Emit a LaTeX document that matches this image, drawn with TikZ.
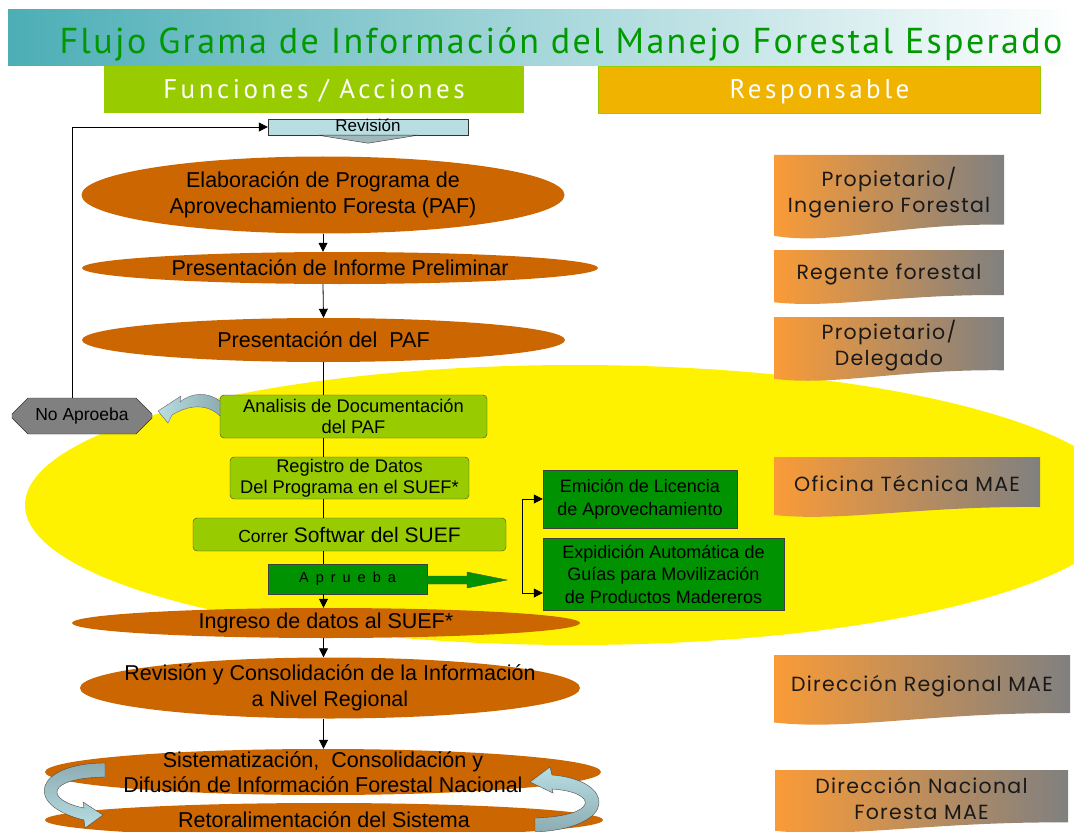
\documentclass[tikz,border=0pt]{standalone}
\usepackage{fontspec}
\setmainfont{Liberation Sans}
\newfontfamily\titlefont[LetterSpace=6.5]{PT Sans}
\newfontfamily\headfont[LetterSpace=13]{PT Sans}
\newfontfamily\respfont[LetterSpace=6]{Poppins}
\usetikzlibrary{shapes.geometric, shapes.misc, arrows.meta}

\definecolor{banner}{RGB}{76,174,182}
\definecolor{titlegreen}{RGB}{0,153,0}
\definecolor{lgreen}{RGB}{153,204,0}
\definecolor{dgreen}{RGB}{0,146,0}
\definecolor{respyellow}{RGB}{240,180,0}
\definecolor{elipcol}{RGB}{204,102,0}
\definecolor{cyanbox}{RGB}{184,222,226}
\definecolor{blueshade}{RGB}{140,172,178}
\definecolor{docorange}{RGB}{250,155,55}
\definecolor{docgray}{RGB}{128,128,128}

\tikzset{
flowell/.style={ellipse, fill=elipcol, inner xsep=-60pt, inner ysep=-10pt, align=center, font=\fontsize{21.5}{25.5}\selectfont},
greenbox/.style={rectangle, rounded corners=4pt, draw=black!75, fill=lgreen, inner sep=0pt, align=center, font=\fontsize{18.3}{21}\selectfont},
darkbox/.style={rectangle, draw=black!75, fill=dgreen, inner sep=0pt, align=center, font=\fontsize{18}{22.5}\selectfont},
resptext/.style={align=center, font=\respfont\fontsize{20.5}{26}\selectfont, text=black!90},
headbox/.style={rectangle, inner sep=0pt, text=white, text height=19pt, text depth=0pt, font=\headfont\fontsize{27}{30}\selectfont},
arr/.style={-{Triangle[length=9pt,width=9pt]}, line width=0.8pt},
link/.style={line width=0.8pt},
}

\newcommand{\respdoc}[6]{%
\shade[left color=docorange, right color=docgray] (#2,#3) -- (#4,#3) -- (#4,{#5-0.18*(#5-#3)}) .. controls ({#2+0.55*(#4-#2)},{#5-0.2*(#5-#3)}) and ({#2+0.25*(#4-#2)},{#5+0.07*(#5-#3)}) .. (#2,{#5-0.05*(#5-#3)}) -- cycle;
\node[resptext] (#1) at ({(#2+#4)/2},{(#3+#5)/2-0.06*(#5-#3)}) {#6};}

\begin{document}
\begin{tikzpicture}[x=1pt, y=-1pt]
\useasboundingbox (0,0) rectangle (1074,832);
\shade[left color=banner, right color=white] (8,10) rectangle (1074,66);
\node[text=titlegreen, font=\titlefont\fontsize{36}{40}\selectfont] (titulo) at (561,44) {Flujo Grama de Información del Manejo Forestal Esperado};
\node[headbox, fill=lgreen, minimum width=420pt, minimum height=47pt] (funciones) at (314,89.5) {Funciones / Acciones};
\node[headbox, fill=respyellow, draw=lgreen, minimum width=442pt, minimum height=47pt] (responsable) at (819.5,89.5) {Responsable};

\fill[yellow] (575,505) ellipse [x radius=550pt, y radius=140pt];

\respdoc{prop}{774}{155}{1004}{240}{Propietario/\\Ingeniero Forestal}
\respdoc{regente}{774}{250}{1004}{305}{Regente forestal}
\respdoc{deleg}{774}{317}{1004}{382}{Propietario/\\Delegado}
\respdoc{oficina}{774}{457}{1040}{518}{Oficina Técnica MAE}
\respdoc{dirreg}{774}{655}{1070}{726}{Dirección Regional MAE}
\respdoc{dirnac}{775}{770}{1068}{834}{Dirección Nacional\\Foresta MAE}

\node[draw=black!80, fill=cyanbox, minimum width=200pt, minimum height=16pt, inner sep=0pt, text height=9pt, text depth=0pt, font=\fontsize{17}{20}\selectfont] (rev) at (368,127) {Revisión};
\filldraw[fill=cyanbox!60!gray, draw=black!80] ([xshift=-50pt]rev.south) -- ([yshift=-8pt]rev.south) -- ([xshift=50pt]rev.south) -- cycle;

\node[flowell, minimum width=483pt, minimum height=77pt] (elab) at (323,195) {Elaboración de Programa de\\Aprovechamiento Foresta (PAF)};
\node[flowell, minimum width=516pt, minimum height=32pt] (prelim) at (340,268) {Presentación de Informe Preliminar};
\node[flowell, minimum width=483pt, minimum height=44pt] (prespaf) at (323.5,340) {Presentación del\ \ PAF};

\node[chamfered rectangle, chamfered rectangle xsep=8pt, chamfered rectangle ysep=8pt, draw=black!80, fill=docgray, minimum width=140pt, minimum height=36pt, inner sep=0pt, font=\fontsize{17.5}{20}\selectfont] (noap) at (82,416) {No Aproeba};
\node[greenbox, minimum width=267pt, minimum height=43pt] (anal) at (353.5,416.5) {Analisis de Documentación\\del PAF};
\node[greenbox, minimum width=239pt, minimum height=42pt] (regis) at (349.5,478) {Registro de Datos\\Del Programa en el SUEF*};
\node[greenbox, minimum width=313pt, minimum height=33pt, font=\fontsize{21}{24}\selectfont] (correr) at (349.5,534.5) {{\fontsize{17.5}{20}\selectfont Correr} Softwar del SUEF};
\node[darkbox, minimum width=159pt, minimum height=30pt, font=\fontsize{14.5}{16}\selectfont] (aprb) at (347.5,579) {A\hspace{7pt}p\hspace{7pt}r\hspace{7pt}u\hspace{7pt}e\hspace{7pt}b\hspace{7pt}a};
\node[darkbox, minimum width=194pt, minimum height=58pt] (emi) at (640,499) {Emición de Licencia\\de Aprovechamiento};
\node[darkbox, minimum width=241pt, minimum height=72pt] (expi) at (663.5,574) {Expidición Automática de\\Guías para Movilización\\de Productos Madereros};

\node[flowell, minimum width=508pt, minimum height=30pt] (ingreso) at (326,623) {Ingreso de datos al SUEF*};
\node[flowell, minimum width=500pt, minimum height=61pt, font=\fontsize{21.5}{26}\selectfont] (revcons) at (330,688) {Revisión y Consolidación de la Información\\a Nivel Regional};
\node[flowell, minimum width=556pt, minimum height=46pt] (sist) at (323,772) {Sistematización,\ \ Consolidación y\\Difusión de Información Forestal Nacional};
\node[flowell, minimum width=558pt, minimum height=34pt] (retro) at (324,820) {Retoralimentación del Sistema};

\draw[arr] (elab.south) -- (elab.south |- prelim.north);
\draw[arr] (prelim.south -| elab.south) -- (prespaf.north);
\draw[link] (prespaf.south) -- (prespaf.south |- anal.north);
\draw[link] (anal.south -| prespaf.south) -- (prespaf.south |- regis.north);
\draw[link] (regis.south -| prespaf.south) -- (prespaf.south |- correr.north);
\draw[link] (correr.south -| prespaf.south) -- (prespaf.south |- aprb.north);
\draw[arr] (aprb.south -| prespaf.south) -- (prespaf.south |- ingreso.north);
\draw[arr] (ingreso.south -| prespaf.south) -- (prespaf.south |- revcons.north);
\draw[arr] (revcons.south -| prespaf.south) -- (prespaf.south |- sist.north);
\draw[arr] ([xshift=-10pt]noap.north) |- (rev.west);

\coordinate (brktop) at (522,499);
\coordinate (brkbot) at (522,593);
\draw[link] (brktop) -- (brkbot);
\draw[arr] (brktop) -- (emi.west);
\draw[arr] (brkbot) -- (brkbot -| expi.west);
\filldraw[fill=dgreen, draw=black!70] (427,576) -- (467,576) -- (467,572) -- (507,580) -- (467,588) -- (467,584) -- (427,584) -- cycle;

\shadedraw[left color=cyanbox, right color=blueshade, draw=black!60] (220,401) .. controls (208,392) and (192,392) .. (180,402) -- (181,396) -- (158,411) -- (168,423) -- (172,415) .. controls (190,404) and (208,404) .. (220,416) -- cycle;
\shadedraw[top color=blueshade, bottom color=cyanbox, draw=black!70] (105,763) .. controls (35,763) and (22,805) .. (84,820) -- (85,828) -- (103,815) -- (83,802) -- (84,808) .. controls (45,800) and (45,778) .. (105,777) -- cycle;
\shadedraw[top color=cyanbox, bottom color=blueshade, draw=black!70] (535,832) .. controls (620,828) and (615,780) .. (552,775) -- (550,767) -- (530,782) -- (553,793) -- (552,789) .. controls (598,792) and (600,816) .. (535,818) -- cycle;
\end{tikzpicture}
\end{document}
